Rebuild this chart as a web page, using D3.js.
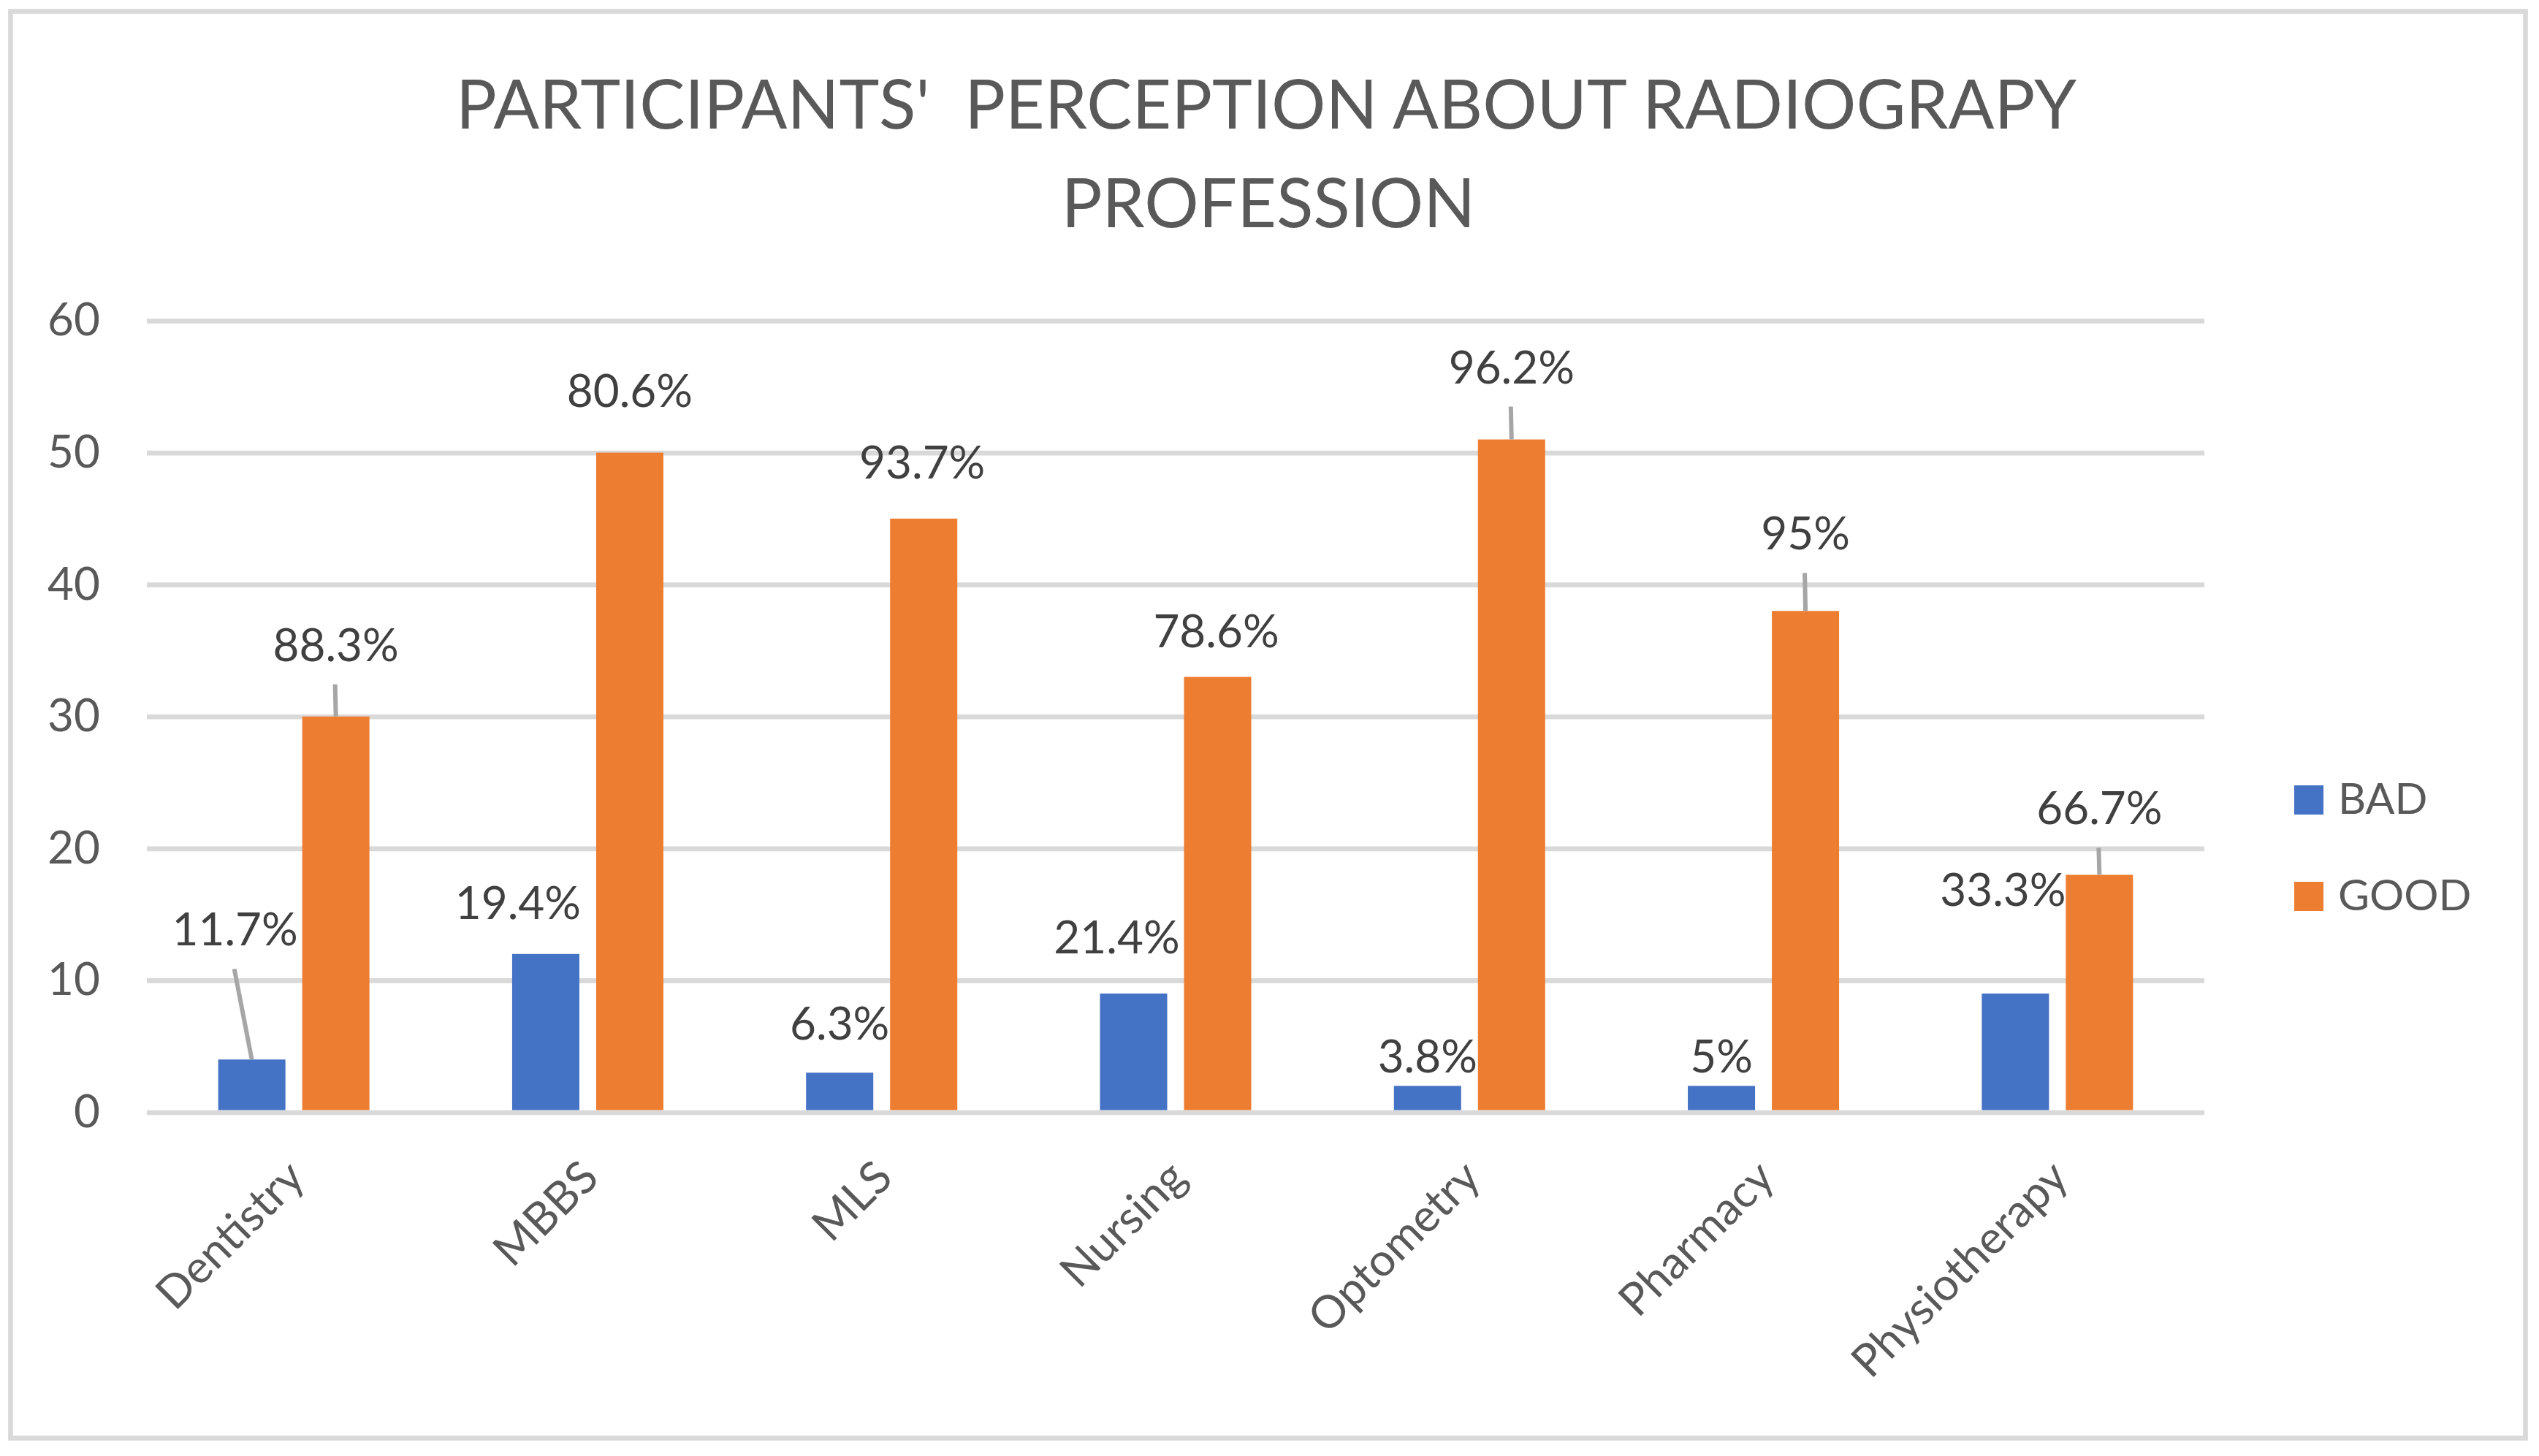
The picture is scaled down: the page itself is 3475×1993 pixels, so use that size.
<!DOCTYPE html>
<html>
<head>
<meta charset="utf-8">
<script src="https://cdn.jsdelivr.net/npm/d3@7"></script>
<style>
  html, body { margin: 0; padding: 0; background: #fff; }
  svg { display: block; font-family: Lato, "Open Sans", sans-serif; }
</style>
</head>
<body>
<svg id="chart" width="3475" height="1993"></svg>
<script>
// data
const categories = ["Dentistry", "MBBS", "MLS", "Nursing", "Optometry", "Pharmacy", "Physiotherapy"];
const seriesNames = ["BAD", "GOOD"];
const badValues = [4, 12, 3, 9, 2, 2, 9];
const goodValues = [30, 50, 45, 33, 51, 38, 18];
const badLabels = ["11.7%", "19.4%", "6.3%", "21.4%", "3.8%", "5%", "33.3%"];
const goodLabels = ["88.3%", "80.6%", "93.7%", "78.6%", "96.2%", "95%", "66.7%"];
const yTicks = [0, 10, 20, 30, 40, 50, 60];

// hand-moved label positions (px from top centre of the bar) and leader lines
const badLabelShift = [[-23, -156], [-38, -48], [0, -45], [-23, -55], [0, -18], [0, -18], [-17, -120]];
const goodLabelShift = [[0, -76], [0, -63], [-2, -55], [-2, -41], [0, -77], [0, -84], [0, -69]];
const badLeader = [true, false, false, false, false, false, false];
const goodLeader = [true, false, false, false, true, true, true];

const colors = {BAD: "#4472C4", GOOD: "#ED7D31"};
const grid = "#D9D9D9";

const svg = d3.select("#chart");
const plotLeft = 201, plotRight = 3017, plotTop = 439, plotBottom = 1522.5;

// chart border
svg.append("rect")
  .attr("x", 14.5).attr("y", 15.5)
  .attr("width", 3442).attr("height", 1953)
  .attr("fill", "#fff")
  .attr("stroke", grid).attr("stroke-width", 6.7);

// title
const title = svg.append("text")
  .attr("text-anchor", "middle")
  .attr("fill", "#595959")
  .style("font-size", "93px")
  .style("white-space", "pre");
title.append("tspan").attr("x", 1733).attr("y", 176).text("PARTICIPANTS'  PERCEPTION ABOUT RADIOGRAPY");
title.append("tspan").attr("x", 1736).attr("y", 311).text("PROFESSION");

const x0 = d3.scaleBand().domain(categories).range([plotLeft, plotRight]).padding(0);
const x1 = d3.scaleBand().domain(seriesNames).range([0, x0.bandwidth()])
  .paddingInner(0.2).paddingOuter(0.849);
const y = d3.scaleLinear().domain([0, 60]).range([plotBottom, plotTop]);

// gridlines + y labels
const yAxis = svg.append("g")
  .attr("transform", `translate(${plotLeft},0)`)
  .call(d3.axisLeft(y).tickValues(yTicks).tickSize(-(plotRight - plotLeft)).tickPadding(64));
yAxis.select(".domain").remove();
yAxis.selectAll(".tick line").attr("stroke", grid).attr("stroke-width", 6.7);
yAxis.selectAll(".tick text")
  .attr("fill", "#595959")
  .style("font-size", "62px")
  .style("font-family", "Lato, sans-serif");

// bars
const rows = categories.map((c, i) => ({
  cat: c,
  values: [
    {key: "BAD", value: badValues[i], label: badLabels[i], shift: badLabelShift[i], leader: badLeader[i]},
    {key: "GOOD", value: goodValues[i], label: goodLabels[i], shift: goodLabelShift[i], leader: goodLeader[i]}
  ]
}));

const groups = svg.append("g").selectAll("g")
  .data(rows).join("g")
  .attr("transform", d => `translate(${x0(d.cat)},0)`);

groups.selectAll("rect")
  .data(d => d.values).join("rect")
  .attr("x", d => x1(d.key))
  .attr("y", d => y(d.value))
  .attr("width", x1.bandwidth())
  .attr("height", d => y(0) - y(d.value) - 3)
  .attr("fill", d => colors[d.key]);

// leader lines
groups.selectAll("line.leader")
  .data(d => d.values.filter(v => v.leader)).join("line")
  .attr("class", "leader")
  .attr("x1", d => x1(d.key) + x1.bandwidth() / 2 + d.shift[0] - 1)
  .attr("y1", d => y(d.value) + d.shift[1] + 32)
  .attr("x2", d => x1(d.key) + x1.bandwidth() / 2)
  .attr("y2", d => y(d.value))
  .attr("stroke", "#A6A6A6").attr("stroke-width", 6);

// data labels
groups.selectAll("text.lbl")
  .data(d => d.values).join("text")
  .attr("class", "lbl")
  .attr("x", d => x1(d.key) + x1.bandwidth() / 2 + d.shift[0])
  .attr("y", d => y(d.value) + d.shift[1])
  .attr("text-anchor", "middle")
  .attr("fill", "#404040")
  .style("font-size", "62px")
  .text(d => d.label);

// x labels
const xAxis = svg.append("g")
  .attr("transform", `translate(0,${plotBottom})`)
  .call(d3.axisBottom(x0).tickSize(0));
xAxis.select(".domain").remove();
xAxis.selectAll(".tick text")
  .attr("y", 0).attr("dy", 0)
  .attr("text-anchor", "end")
  .attr("transform", "translate(18,93) rotate(-45)")
  .attr("fill", "#595959")
  .style("font-size", "62px")
  .style("font-family", "Lato, sans-serif");

// legend
const legend = svg.append("g").selectAll("g")
  .data(seriesNames).join("g")
  .attr("transform", (d, i) => `translate(3140,${1075 + i * 132})`);
legend.append("rect")
  .attr("width", 40).attr("height", 40)
  .attr("fill", d => colors[d]);
legend.append("text")
  .attr("x", 60).attr("y", 39)
  .attr("fill", "#595959")
  .style("font-size", "59px")
  .text(d => d);
</script>
</body>
</html>
